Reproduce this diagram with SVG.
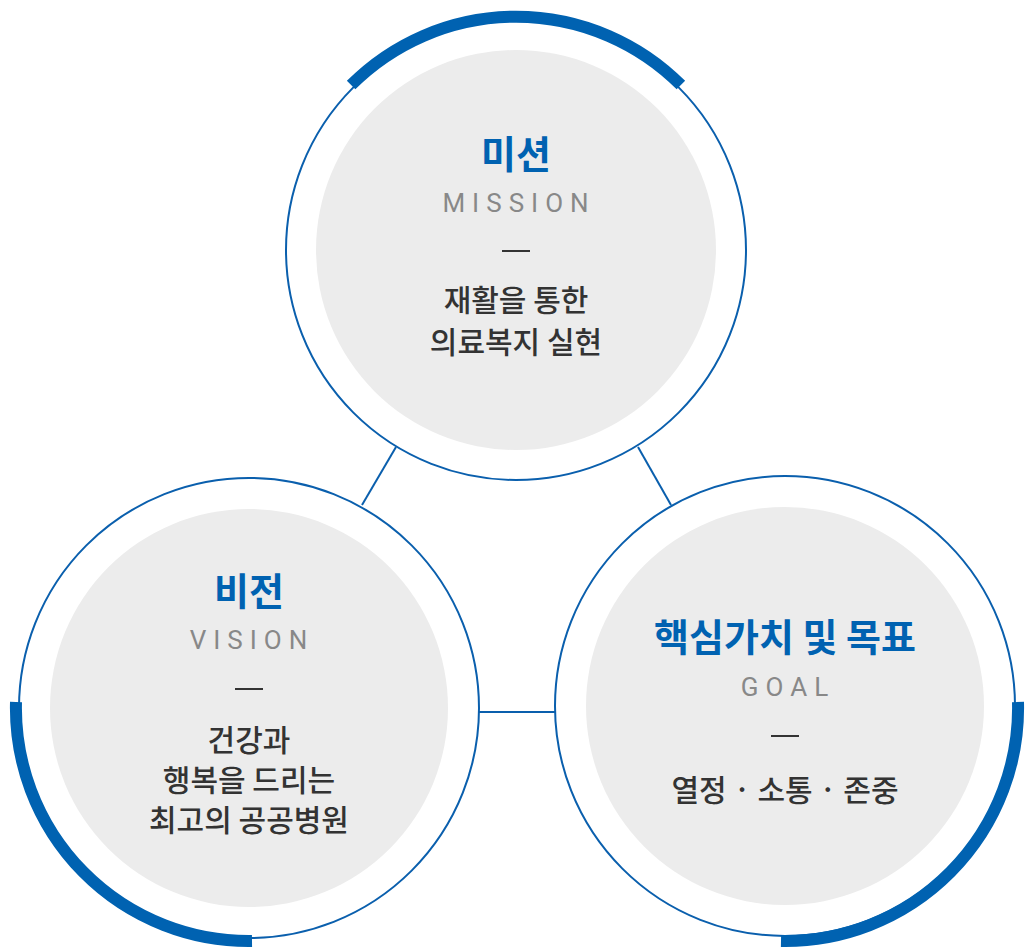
<svg xmlns="http://www.w3.org/2000/svg" width="1033" height="952" viewBox="0 0 1033 952">
<style>
.ring{fill:#fff;stroke:#0a5fad;stroke-width:2}
.in{fill:#ececec}
.arc{fill:none;stroke:#0062b1;stroke-width:12}
.t{font-family:"Noto Sans CJK KR","Noto Sans",sans-serif;font-weight:700;font-size:38px;fill:#0062b1;text-anchor:middle}
.e{font-family:"Roboto","Noto Sans",sans-serif;font-size:26px;fill:#888;letter-spacing:7px;text-anchor:middle}
.d{stroke:#333;stroke-width:2}
.b{font-family:"Noto Sans CJK KR","Noto Sans",sans-serif;font-weight:500;font-size:30px;fill:#333;text-anchor:middle}
.c{stroke:#0a5fad;stroke-width:2}
</style>
<g id="connectors">
<line class="c" x1="396" y1="447" x2="362" y2="505"/>
<line class="c" x1="638" y1="447" x2="671" y2="505"/>
<line class="c" x1="479" y1="712" x2="556" y2="712"/>
</g>
<g id="mission">
<circle class="ring" cx="516" cy="250" r="230"/>
<circle class="in" cx="516" cy="250" r="200"/>
<path class="arc" d="M351.1,85.1 A233,233 0 0 1 680.9,85.1"/>
<text class="t" x="516" y="168">미션</text>
<text class="e" x="519" y="212">MISSION</text>
<line class="d" x1="502" y1="251" x2="530" y2="251"/>
<text class="b" x="516" y="311">재활을 통한</text>
<text class="b" x="516" y="353">의료복지 실현</text>
</g>
<g id="vision">
<circle class="ring" cx="249" cy="708" r="230"/>
<circle class="in" cx="249" cy="708" r="199"/>
<path class="arc" d="M16,702 A233,233 0 0 0 252,941"/>
<text class="t" x="249" y="605">비전</text>
<text class="e" x="252" y="649">VISION</text>
<line class="d" x1="235" y1="689" x2="263" y2="689"/>
<text class="b" x="249" y="751">건강과</text>
<text class="b" x="249" y="791">행복을 드리는</text>
<text class="b" x="249" y="831">최고의 공공병원</text>
</g>
<g id="goal">
<circle class="ring" cx="785" cy="706" r="230"/>
<circle class="in" cx="785" cy="706" r="199"/>
<path class="arc" d="M781,941 A233,233 0 0 0 1018,702"/>
<text class="t" x="785" y="651">핵심가치 및 목표</text>
<text class="e" x="788" y="696">GOAL</text>
<line class="d" x1="771" y1="736" x2="799" y2="736"/>
<text class="b" x="785" y="801">열정 · 소통 · 존중</text>
</g>
</svg>
